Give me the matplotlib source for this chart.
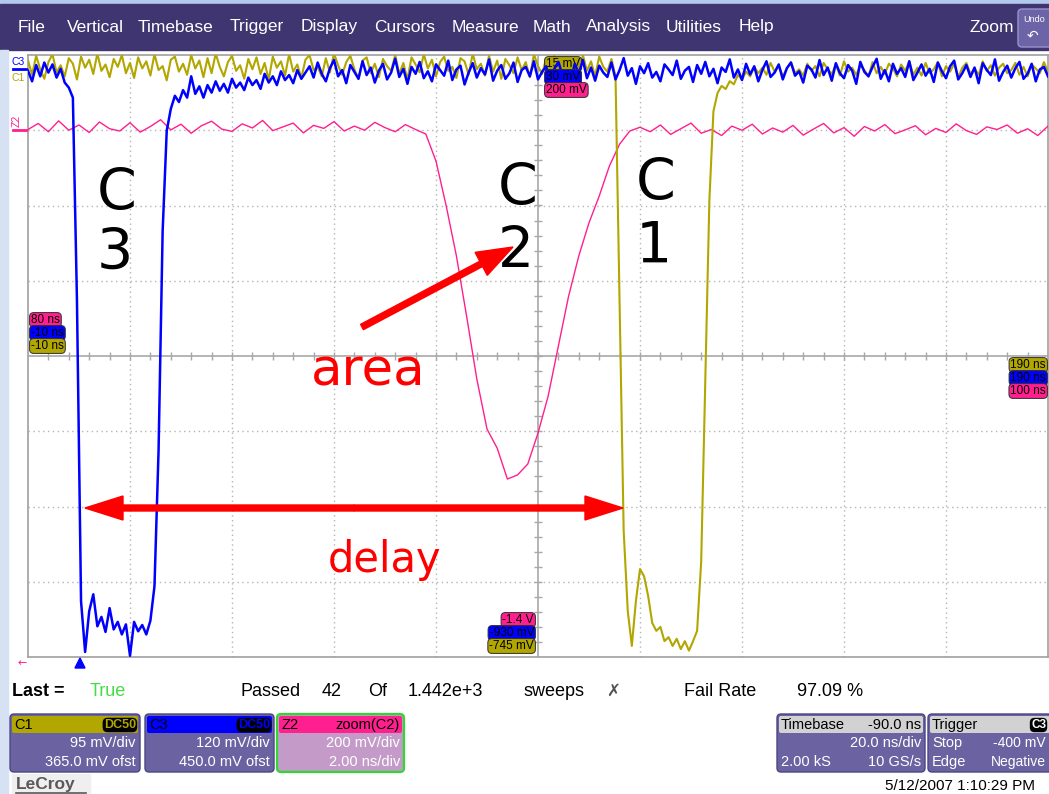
import numpy as np
import matplotlib.pyplot as plt
from matplotlib.patches import FancyBboxPatch, Rectangle, Polygon, FancyArrow

W, H = 1049, 794
UI = 'Liberation Sans'

# sample spacing of the plotted traces
C_T0_NS = -10.0   # C1 / C3 start time
C_DT_NS = 0.8
Z_T0_NS = 80.0    # Z2 = zoom(C2), 80 .. 100 ns
Z_DT_NS = 0.2

# C3 (blue), mV
c3_mv = [5, -12, 14, -4, 18, 2, 15, -6, 8, -14, -22, -38,
         -362, -841, -922, -857, -830, -881, -866, -890, -852, -886,
         -874, -894, -878, -928, -874, -889, -879, -894, -872, -817,
         -601, -251, -91, -56, -35, -45, -26, -38, -4, -32,
         -20, -38, -18, -30, -12, -27, -16, -30, -8, -22,
         -14, -26, -6, -18, -10, -24, 0, -14, -4, -18,
         4, -10, -2, -15, 6, -8, 2,
         12, -6, 18, 0, -12, 9, 22, -4, 6, -15, 14, 3, -8, 20, -2, 10, -14, 5, 16, -9, 2, 24, -5, 8, -16, 11, 0, 19, -7, 4,
         -12, 15, 6, -3, 21, -10, 7, 13, -17, 2, 17, -6, 9, -1, 23, -11, 5, 14, -8, 1, 18, -13, 6, 11, -4, 20, -9, 3, 12, -15,
         8, 19, -2, 4, -14, 16, 0, 22, -7, 10, -11, 13, 2, -5, 18, -9, 6, 25, -3, 9, -16, 12, 1, 17, -6, 3, -12, 15, 7, -2,
         21, -8, 5, 11, -13, 14, 0, 19, -4, 8, -15, 10, 3, 23, -6, 7, -10, 16, -1, 12, -12, 6, 20, -5, 2, 15, -9, 9, 18, -3,
         4, -14, 13, 7, -6, 22, -2, 10, -11, 17, 1, -7, 14, 5, -16, 19, 3, -4, 11, 24, -8, 6, -12, 16, 0, 9, -5, 20, -10, 2,
         15, -3, 8, -13, 18, 4, -7, 12, 21, -9, 1, 14, -5, 10, -15, 17, 6, -2, 23, -11, 3, 13, -6, 9, 19, -8, 0, 16, -12, 7, 11, -4]

# C1 (olive), mV
c1_mv = [8, -10, 14, -3, -15, 6, 16, -7, 2, -12, 11, 4, -16, 13, -1, 9, -9, 17, -5, 3, -13, 10, 0, 15, -8, 5, -14, 12, -2, 7,
         -11, 16, -4, 1, -17, 9, 13, -6, 4, -10, 15, -2, 8, -13, 11, -8, 17, 0, -12, 6, 14, -5, 2, -15, 10, -3, 12, -9, 5, -16,
         13, -1, 7, -11, 16, -6, 3, -14, 9, 15, -4, 0, -12, 11, -7, 17, 2, -10, 6, 14, -3, -15, 8, 12, -8, 4, -13, 10, 1, -5,
         15, -9, 5, -16, 12, 3, -7, 16, -2, 9, -12, 6, 13, -5, 0, -14, 11, 7, -10, 17, -3, 4, -11, 14, -6, 8, -15, 10, 2, -8,
         12, -4, 6, -13, 16, 1, -9, 11, -2, 14, -7, 5, -15, 9, 3, -11, 15, -5, 7, -12, 13, 0, -6, 10,
         -12, -296, -586, -687, -731, -674, -634, -643, -668, -702,
         -712, -707, -725, -720, -731, -722, -735, -725, -737, -725,
         -712, -624, -397, -169, -56, -33, -24, -28, -18, -22,
         -10, -16, -6, -12, 0, -8,
         -1, -10, 5, -6, 2, -12, -2, 6, -8, -3, -11, 4, -5, 1, -12, 5, -3, -9, 3, -11, 7, -6, -1, -10, 2, -4, -12, 6, -8, 0,
         -9, 4, -2, -12, 3, -5, 7, -10, -1, -11, 5, -8, -3, 6, -12, 1, -6, 4, -13, -1, 5, -9, -2, -10, 7, -5, 2, -11, -1, 4,
         -8, -4, 5, -10, 0, -12, 3, -2, -8, 6, -6]

# Z2 (pink), mV
z2_mv = [2, 18, -4, 25, 0, 14, -6, 22, 4, -2, 20, -5, 10, 28, 1, 16, -8, 12, 24, 3,
         -3, 17, 6, 26, -1, 9, 19, -7, 13, 5, 23, -2, 11, 0, 21, 7, -4, 15, 2,
         -10, -82, -201, -334, -494, -661, -794, -845, -927, -916, -887,
         -805, -706, -573, -441, -334, -246, -175, -95, -37, -2,
         8, -4, 14, -11, 4, 19, -8, 2, -14, 11, 0, 16, -10, 6, -5, 13, -13, 3, 18, -7,
         7, -16, 10, -2, 15, -9, 1, 12, -12, 5, -6, 17, -1, -11, 9, 2, 14, -8, 4, -14, 11]

menu_items = ['File', 'Vertical', 'Timebase', 'Trigger', 'Display', 'Cursors',
              'Measure', 'Math', 'Analysis', 'Utilities', 'Help', 'Zoom']
menu_x = [18, 67, 138, 230, 301, 374, 452, 533, 586, 666, 739, 969]

BLUE = '#0000ff'
OLIVE = '#b2a600'
PINK = '#ff1f8e'
PURPLE = '#6b63a1'

fig = plt.figure(figsize=(W / 100, H / 100), dpi=100)
fig.patch.set_facecolor('white')

# screen area in pixels
L, R, T, B = 28, 1048, 55, 657
pos = [L / W, 1 - B / H, (R - L) / W, (B - T) / H]

# graticule, in divisions
grid = fig.add_axes(pos)
grid.set_xlim(0, 10)
grid.set_ylim(-4, 4)
grid.set_xticks([])
grid.set_yticks([])
for s in grid.spines.values():
    s.set_color('#a0a0a0')
    s.set_linewidth(1.2)
dot = (0, (1, 2.5))
for k in range(1, 10):
    if k != 5:
        grid.axvline(k, color='#b4b4b4', lw=1, ls=dot)
for k in range(-3, 4):
    if k != 0:
        grid.axhline(k, color='#b4b4b4', lw=1, ls=dot)
grid.axvline(5, color='#a8a8a8', lw=1.2)
grid.axhline(0, color='#a8a8a8', lw=1.2)
mx = np.arange(0.2, 10, 0.2)
grid.plot(mx, np.zeros_like(mx), ls='none', marker='|', ms=6, color='#a8a8a8')
my = np.arange(-3.8, 4, 0.2)
grid.plot(np.full_like(my, 5), my, ls='none', marker='_', ms=6, color='#a8a8a8')


def trace_axes(xlim, ylim):
    a = fig.add_axes(pos)
    a.set_xlim(*xlim)
    a.set_ylim(*ylim)
    a.axis('off')
    return a


# Z2: 200 mV/div, 2 ns/div ; C1: 95 mV/div, 365 mV ofst ; C3: 120 mV/div, 450 mV ofst
az = trace_axes((80, 100), (-1400, 200))
a1 = trace_axes((-10, 190), (-745, 15))
a3 = trace_axes((-10, 190), (-930, 30))

az.plot(Z_T0_NS + Z_DT_NS * np.arange(len(z2_mv)), z2_mv, color=PINK, lw=1.0)
a1.plot(C_T0_NS + C_DT_NS * np.arange(len(c1_mv)), c1_mv, color=OLIVE, lw=1.5)
a3.plot(C_T0_NS + C_DT_NS * np.arange(len(c3_mv)), c3_mv, color=BLUE, lw=1.8)

# overlay in pixel coordinates for the scope chrome
ov = fig.add_axes([0, 0, 1, 1])
ov.set_xlim(0, W)
ov.set_ylim(H, 0)
ov.axis('off')


def tag(x, y, s, fc, ha='left', ax=None):
    (ax or ov).text(x, y, s, ha=ha, va='center', fontsize=8.5, family=UI, color='black',
                    transform=ov.transData, zorder=5,
                    bbox=dict(boxstyle='round,pad=0.12,rounding_size=0.35', fc=fc, ec='#303030', lw=0.7))


# top bar
ov.add_patch(Rectangle((0, 0), W, 5, color='#b3c9ec'))
ov.add_patch(Rectangle((0, 4), W, 46, color='#3f3671'))
ov.add_patch(Rectangle((0, 50), 8, H - 50, color='#d6e2f3'))
for name, x in zip(menu_items, menu_x):
    ov.text(x, 27, name, color='white', fontsize=12.5, family=UI, va='center')
ov.add_patch(FancyBboxPatch((1018, 9), 40, 38, boxstyle='round,pad=0,rounding_size=4',
                            fc='#6b64a6', ec='#9a94c8', lw=1))
ov.text(1023, 20, 'Undo', color='white', fontsize=6.5, family=UI, va='center')
ov.text(1027, 36, '\u21b6', color='white', fontsize=10, va='center')

# channel markers at the left edge
ov.text(12, 62, 'C3', color=BLUE, fontsize=7.5, family=UI, va='center')
ov.plot([13, 26], [69, 69], color=BLUE, lw=2)
ov.text(12, 78, 'C1', color=OLIVE, fontsize=7.5, family=UI, va='center')
ov.text(17, 121, 'Z2', color=PINK, fontsize=7.5, family=UI, va='center', ha='center', rotation=90)
ov.plot([13, 26], [130, 130], color=PINK, lw=2)

# scale tags
tag(31, 320, '80 ns', PINK)
tag(31, 333, '-10 ns', BLUE)
tag(31, 346, '-10 ns', OLIVE)
tag(1046, 365, '190 ns', OLIVE, ha='right')
tag(1046, 378, '190 ns', BLUE, ha='right')
tag(1046, 391, '100 ns', PINK, ha='right')
tag(546, 64, '15 mV', OLIVE, ax=a1)
tag(546, 77, '30 mV', BLUE)
tag(546, 90, '200 mV', PINK)
tag(534, 620, '-1.4 V', PINK, ha='right')
tag(534, 633, '-930 mV', BLUE, ha='right')
tag(534, 646, '-745 mV', OLIVE, ha='right')

# annotations
for x, y, s in [(97, 210, 'C'), (97, 270, '3'), (498, 205, 'C'), (498, 268, '2'),
                (636, 200, 'C'), (636, 263, '1')]:
    ov.text(x, y, s, fontsize=41, color='black', va='baseline')
ov.text(311, 386, 'area', fontsize=37, color='red', va='baseline')
ov.text(328, 572, 'delay', fontsize=30, color='red', va='baseline')
ov.add_patch(FancyArrow(362, 327, 151, -80, width=6, head_width=26, head_length=36,
                        length_includes_head=True, color='red'))
for dx in (269, -269):
    ov.add_patch(FancyArrow(354, 508, dx, 0, width=6, head_width=24, head_length=38,
                            length_includes_head=True, color='red'))

# below the screen
ov.text(22, 663, '\u2190', color=PINK, fontsize=8, ha='center', va='center')
ov.add_patch(Polygon([(75, 668), (85, 668), (80, 658)], color=BLUE))

ov.text(12, 692, 'Last =', fontsize=13, family=UI, weight='bold', va='center')
ov.text(90, 692, 'True', fontsize=13, family=UI, color='#44dd44', va='center')
for x, s in [(240, 'Passed'), (322, '42'), (368, 'Of'), (408, '1.442e+3'), (523, 'sweeps'),
             (684, 'Fail Rate'), (797, '97.09 %')]:
    ov.text(x, 692, s, fontsize=13, family=UI, va='center')
ov.text(606, 691, '\u2717', fontsize=12, color='#505050', va='center')


def panel(x0, x1, body=PURPLE, edge='#4b4585', elw=1.0, y0=714, y1=772):
    ov.add_patch(FancyBboxPatch((x0, y0), x1 - x0, y1 - y0, boxstyle='round,pad=0,rounding_size=4',
                                fc=body, ec=edge, lw=elw))


def header(x0, x1, fc, y0=716):
    ov.add_patch(FancyBboxPatch((x0 + 2, y0), x1 - x0 - 4, 17, boxstyle='round,pad=0,rounding_size=2',
                                fc=fc, ec='none'))


def badge(x, s, fg, size=9):
    ov.text(x, 725, s, ha='right', va='center', fontsize=size, family=UI, color=fg, weight='bold',
            bbox=dict(boxstyle='round,pad=0.1,rounding_size=0.4', fc='black', ec='none'))


def row(x, y, s, ha='right', color='white', size=10.5):
    ov.text(x, y, s, ha=ha, va='center', fontsize=size, family=UI, color=color)


panel(10, 140)
header(10, 140, OLIVE)
row(14, 725, 'C1', ha='left', color='black')
badge(136, 'DC50', OLIVE)
row(136, 743, '95 mV/div')
row(136, 762, '365.0 mV ofst')

panel(145, 274)
header(145, 274, BLUE)
row(149, 725, 'C3', ha='left', color='black')
badge(270, 'DC50', BLUE)
row(270, 743, '120 mV/div')
row(270, 762, '450.0 mV ofst')

panel(277, 404, body='#c49bc8', edge='#2fd82f', elw=1.6)
header(277, 404, PINK)
row(281, 725, 'Z2', ha='left', color='black')
row(400, 725, 'zoom(C2)', color='black')
row(400, 743, '200 mV/div')
row(400, 762, '2.00 ns/div')

panel(777, 925)
header(777, 925, '#d2d2d2')
row(781, 725, 'Timebase', ha='left', color='black')
row(921, 725, '-90.0 ns', color='black')
row(921, 743, '20.0 ns/div')
row(781, 762, '2.00 kS', ha='left')
row(921, 762, '10 GS/s')

panel(928, 1075)
header(928, 1075, '#d2d2d2')
row(932, 725, 'Trigger', ha='left', color='black')
badge(1046, 'C3', 'white', size=8.5)
row(932, 743, 'Stop', ha='left')
row(1046, 743, '-400 mV', size=10)
row(932, 762, 'Edge', ha='left')
row(1046, 762, 'Negative', size=10)

ov.text(885, 786, '5/12/2007 1:10:29 PM', fontsize=11, family=UI, va='center')
ov.add_patch(Rectangle((12, 774), 78, 20, color='#efefef'))
ov.text(16, 784, 'LeCroy', fontsize=12.5, family=UI, weight='bold', color='#5a5a5a', va='center')
ov.plot([16, 86], [793, 793], color='#5a5a5a', lw=1.2)

fig.savefig('out.png', dpi=100)
